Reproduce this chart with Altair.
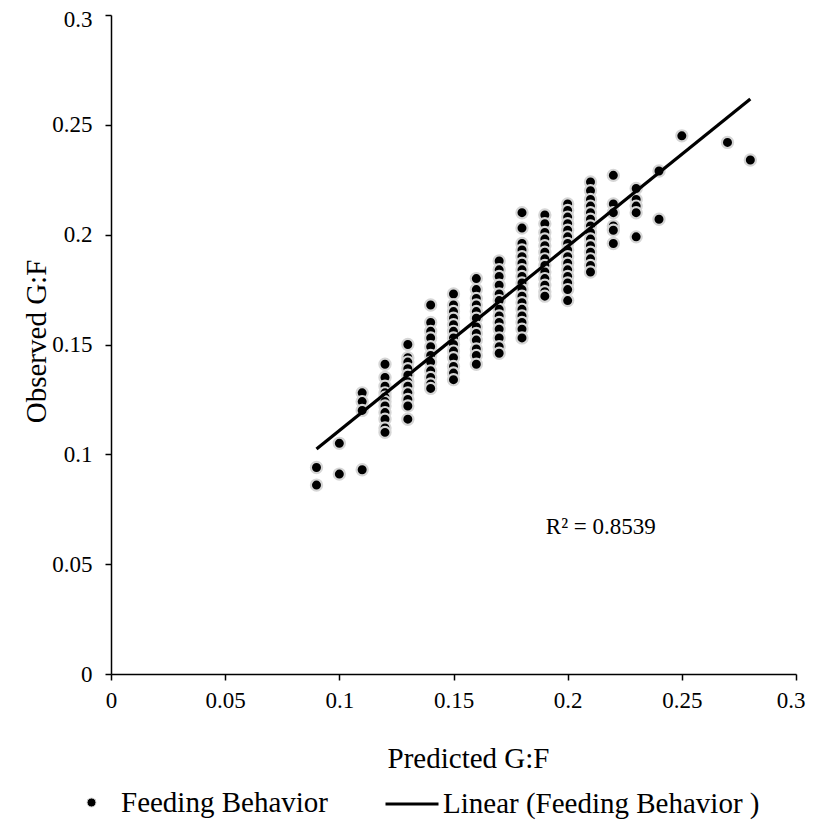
import altair as alt
import pandas as pd

# ---- data ----
pred_levels = [0.09, 0.10, 0.11, 0.12, 0.13, 0.14, 0.15, 0.16, 0.17, 0.18,
               0.19, 0.20, 0.21, 0.22, 0.23, 0.24, 0.25, 0.27, 0.28]

obs_009 = [0.094, 0.086]
obs_010 = [0.105, 0.091]
obs_011 = [0.128, 0.124, 0.120, 0.093]
obs_012 = [0.141, 0.135, 0.131, 0.128, 0.126, 0.124, 0.122, 0.119, 0.116, 0.112, 0.110]
obs_013 = [0.150, 0.144, 0.142, 0.139, 0.136, 0.133, 0.131, 0.128, 0.125, 0.122, 0.116]
obs_014 = [0.168, 0.160, 0.156, 0.153, 0.149, 0.145, 0.142, 0.138, 0.135, 0.132, 0.130]
obs_015 = [0.173, 0.168, 0.165, 0.162, 0.159, 0.156, 0.153, 0.150, 0.147, 0.144, 0.140, 0.137, 0.134]
obs_016 = [0.180, 0.175, 0.171, 0.168, 0.165, 0.162, 0.158, 0.155, 0.152, 0.148, 0.145, 0.141]
obs_017 = [0.188, 0.184, 0.181, 0.177, 0.173, 0.170, 0.166, 0.163, 0.160, 0.157, 0.153, 0.149, 0.146]
obs_018 = [0.210, 0.203, 0.196, 0.193, 0.190, 0.187, 0.184, 0.181, 0.178, 0.175, 0.172,
           0.169, 0.166, 0.163, 0.160, 0.157, 0.153]
obs_019 = [0.209, 0.205, 0.201, 0.198, 0.195, 0.192, 0.189, 0.186, 0.183, 0.180, 0.177, 0.174, 0.172]
obs_020 = [0.214, 0.211, 0.208, 0.205, 0.202, 0.199, 0.196, 0.193, 0.190, 0.187, 0.184,
           0.181, 0.178, 0.175, 0.170]
obs_021 = [0.224, 0.220, 0.216, 0.213, 0.210, 0.207, 0.204, 0.201, 0.198, 0.195, 0.192,
           0.189, 0.186, 0.183]
obs_022 = [0.227, 0.214, 0.210, 0.204, 0.202, 0.196]
obs_023 = [0.221, 0.216, 0.213, 0.210, 0.199]
obs_024 = [0.229, 0.207]
obs_025 = [0.245]
obs_027 = [0.242]
obs_028 = [0.234]

observed_lists = [obs_009, obs_010, obs_011, obs_012, obs_013, obs_014, obs_015,
                  obs_016, obs_017, obs_018, obs_019, obs_020, obs_021, obs_022,
                  obs_023, obs_024, obs_025, obs_027, obs_028]

# trend line end points (as drawn in the reference)
trend_x = [0.09, 0.28]
trend_y = [0.1024, 0.2618]

r2_text = ["R² = 0.8539"]
r2_x = [0.2145]
r2_y = [0.0670]

tick_values = [0, 0.05, 0.1, 0.15, 0.2, 0.25, 0.3]

series_points = "Feeding Behavior"
series_line = "Linear (Feeding Behavior )"

# ---- tables ----
scatter_df = pd.DataFrame(
    [{"Predicted": p, "Observed": o, "series": series_points}
     for p, obs in zip(pred_levels, observed_lists) for o in obs]
)
trend_df = pd.DataFrame({"Predicted": trend_x, "Observed": trend_y,
                         "series": [series_line] * len(trend_x)})
r2_df = pd.DataFrame({"Predicted": r2_x, "Observed": r2_y, "label": r2_text})

FONT = "Liberation Serif"

x_scale = alt.Scale(domain=[0, 0.3], nice=False, zero=False)
y_scale = alt.Scale(domain=[0, 0.3], nice=False, zero=False)

x_axis = alt.Axis(
    values=tick_values, format=".2~f", title="Predicted G:F",
    grid=False, domainColor="black", domainWidth=1.5,
    tickColor="black", tickWidth=1.5, tickSize=6, labelFlush=False,
    labelAlign={"condition": {"test": "datum.value > 0.29", "value": "right"}, "value": "center"},
    labelOffset={"condition": {"test": "datum.value > 0.29", "value": 9}, "value": 0},
    labelFont=FONT, labelFontSize=23, labelColor="black", labelPadding=9,
    titleFont=FONT, titleFontSize=29, titleFontWeight="normal", titleColor="black",
    titleX=357, titleY=93, titleBaseline="alphabetic", titleAlign="center",
)
y_axis = alt.Axis(
    values=tick_values, format=".2~f", title="Observed G:F",
    grid=False, domainColor="black", domainWidth=1.5,
    tickColor="black", tickWidth=1.5, tickSize=6, labelFlush=False,
    labelOffset={"condition": {"test": "datum.value > 0.29", "value": 4}, "value": 0},
    labelFont=FONT, labelFontSize=23, labelColor="black", labelPadding=13,
    titleFont=FONT, titleFontSize=29, titleFontWeight="normal", titleColor="black",
    titleX=-75, titleY=326, titleAngle=-90, titleBaseline="middle", titleAlign="center",
)

points = alt.Chart(scatter_df).mark_point(
    filled=True, size=125, stroke="#d6d6d6", strokeWidth=2.2, opacity=1
).encode(
    x=alt.X("Predicted:Q", scale=x_scale, axis=x_axis),
    y=alt.Y("Observed:Q", scale=y_scale, axis=y_axis),
    color=alt.Color(
        "series:N",
        scale=alt.Scale(domain=[series_points], range=["black"]),
        legend=alt.Legend(
            orient="none", legendX=-34, legendY=773, title=None, padding=0,
            symbolType="circle", symbolSize=80, symbolFillColor="black",
            symbolStrokeColor="#d6d6d6", symbolStrokeWidth=1,
            labelFont=FONT, labelFontSize=29, labelColor="black", labelOffset=15,
            labelLimit=0,
        ),
    ),
)

trend = alt.Chart(trend_df).mark_line(strokeWidth=3.2).encode(
    x=alt.X("Predicted:Q", scale=x_scale),
    y=alt.Y("Observed:Q", scale=y_scale),
    color=alt.Color(
        "series:N",
        scale=alt.Scale(domain=[series_line], range=["black"]),
        legend=alt.Legend(
            orient="none", legendX=273, legendY=761, title=None, padding=0,
            symbolType="stroke", symbolSize=2809, symbolStrokeWidth=3,
            symbolStrokeColor="black",
            labelFont=FONT, labelFontSize=29, labelColor="black", labelOffset=3,
            labelLimit=0,
        ),
    ),
)

r2 = alt.Chart(r2_df).mark_text(
    font=FONT, fontSize=23, color="black", align="center", baseline="middle"
).encode(
    x=alt.X("Predicted:Q", scale=x_scale),
    y=alt.Y("Observed:Q", scale=y_scale),
    text="label:N",
)

chart = alt.layer(points, trend, r2).resolve_scale(
    color="independent"
).resolve_legend(
    color="independent"
).properties(
    width=685, height=659,
    autosize=alt.AutoSizeParams(type="none"),
    padding={"left": 103, "top": 7, "right": 10, "bottom": 148},
    background="white",
).configure_view(stroke=None)

chart.save("out.html", embed_options={"renderer": "svg", "actions": False})
